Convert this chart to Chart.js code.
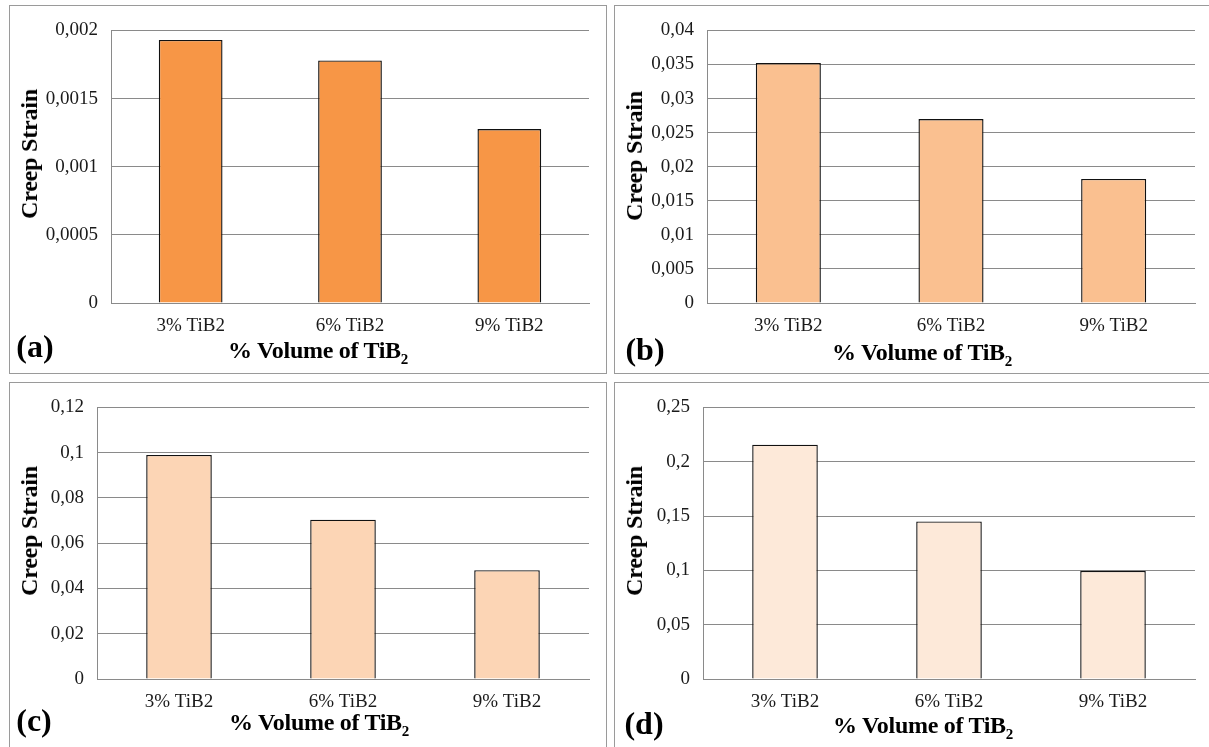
<!DOCTYPE html>
<html>
<head>
<meta charset="utf-8">
<script src="https://cdn.jsdelivr.net/npm/chart.js@4/dist/chart.umd.min.js"></script>
<style>
  html, body { margin:0; padding:0; background:#fff; width:1209px; height:747px; overflow:hidden; }
  .panel { position:absolute; border:1px solid #9a9a9a; box-sizing:border-box; }
  .box { position:absolute; }
  .txt { position:absolute; font-family:"Liberation Serif", "Times New Roman", serif; color:#000; white-space:nowrap; line-height:1; }
  .ytitle { font-weight:bold; font-size:24px; letter-spacing:-0.2px; transform:translate(-50%,-50%) rotate(-90deg); }
  .xtitle { font-weight:bold; font-size:24px; letter-spacing:-0.3px; transform:translate(-50%,-50%); }
  .xtitle sub { font-size:15px; vertical-align:-6px; line-height:0; }
  .letter { font-weight:bold; font-size:32px; transform:translate(-50%,-50%); }
</style>
</head>
<body>
<script>
// ---- data ----
const categories = ["3% TiB2", "6% TiB2", "9% TiB2"];
const valuesA = [0.00193, 0.00178, 0.001276];
const valuesB = [0.0352, 0.0270, 0.0182];
const valuesC = [0.0990, 0.0704, 0.0481];
const valuesD = [0.2157, 0.1450, 0.0996];
const yMaxes = [0.002, 0.04, 0.12, 0.25];
const ySteps = [0.0005, 0.005, 0.02, 0.05];
const panelLetters = ["(a)", "(b)", "(c)", "(d)"];
const yTitle = "Creep Strain";
const xTitleMain = "% Volume of TiB";
const xTitleSub = "2";
const barColors = ["#F79646", "#FAC090", "#FCD5B5", "#FDE9D9"];

// ---- layout ----
const panels = [
  { px:9,   py:5,   pw:598, ph:369, cx:10,  cy:6,   cw:596, ch:367, left:101, top:19, right:579, bottom:297,
    yt:[28.5,154], xt:[318,350], lt:[35,346] },
  { px:614, py:5,   pw:600, ph:369, cx:615, cy:6,   cw:594, ch:367, left:92,  top:19, right:580, bottom:297,
    yt:[634,156], xt:[922,352], lt:[645,349] },
  { px:9,   py:382, pw:598, ph:372, cx:10,  cy:383, cw:596, ch:364, left:87,  top:18, right:579, bottom:296,
    yt:[29,531], xt:[319,722], lt:[34,720] },
  { px:614, py:382, pw:600, ph:372, cx:615, cy:383, cw:594, ch:364, left:88,  top:19, right:580, bottom:296,
    yt:[634,531], xt:[923,725], lt:[644,723] }
];
const allValues = [valuesA, valuesB, valuesC, valuesD];

function fmt(v) {
  return Number(v.toFixed(6)).toString().replace('.', ',');
}

panels.forEach((p, i) => {
  const panel = document.createElement('div');
  panel.className = 'panel';
  Object.assign(panel.style, { left:p.px+'px', top:p.py+'px', width:p.pw+'px', height:p.ph+'px' });
  document.body.appendChild(panel);

  const box = document.createElement('div');
  box.className = 'box';
  Object.assign(box.style, { left:p.cx+'px', top:p.cy+'px', width:p.cw+'px', height:p.ch+'px' });
  const cv = document.createElement('canvas');
  box.appendChild(cv);
  document.body.appendChild(box);

  const yt = document.createElement('div');
  yt.className = 'txt ytitle';
  yt.textContent = yTitle;
  Object.assign(yt.style, { left:p.yt[0]+'px', top:p.yt[1]+'px' });
  document.body.appendChild(yt);

  const xt = document.createElement('div');
  xt.className = 'txt xtitle';
  xt.innerHTML = xTitleMain + '<sub>' + xTitleSub + '</sub>';
  Object.assign(xt.style, { left:p.xt[0]+'px', top:p.xt[1]+'px' });
  document.body.appendChild(xt);

  const lt = document.createElement('div');
  lt.className = 'txt letter';
  lt.textContent = panelLetters[i];
  Object.assign(lt.style, { left:p.lt[0]+'px', top:p.lt[1]+'px' });
  document.body.appendChild(lt);

  new Chart(cv, {
    type: 'bar',
    data: {
      labels: categories,
      datasets: [{
        data: allValues[i],
        backgroundColor: barColors[i],
        borderColor: '#111111',
        borderWidth: 1.4,
        barPercentage: 0.4,
        categoryPercentage: 1.0
      }]
    },
    options: {
      responsive: true,
      maintainAspectRatio: false,
      animation: false,
      devicePixelRatio: 1,
      layout: { padding: { left: 0, top: p.top, right: p.cw - p.right, bottom: 0 } },
      plugins: { legend: { display:false }, tooltip: { enabled:false } },
      scales: {
        x: {
          offset: true,
          grid: { display:false, drawTicks:false },
          border: { display:true, color:'#8a8a8a', width:1 },
          ticks: { color:'#1a1a1a', padding:12, font:{ family:'Liberation Serif', size:19 } },
          afterFit: (s) => { s.height = p.ch - p.bottom; }
        },
        y: {
          min: 0,
          max: yMaxes[i],
          ticks: {
            stepSize: ySteps[i],
            color:'#1a1a1a',
            padding: 13,
            font:{ family:'Liberation Serif', size:19 },
            callback: (v) => fmt(v)
          },
          grid: { color:'#8a8a8a', lineWidth:1, drawTicks:false },
          border: { display:true, color:'#8a8a8a', width:1 },
          afterFit: (s) => { s.width = p.left; }
        }
      }
    }
  });
});
</script>
</body>
</html>
